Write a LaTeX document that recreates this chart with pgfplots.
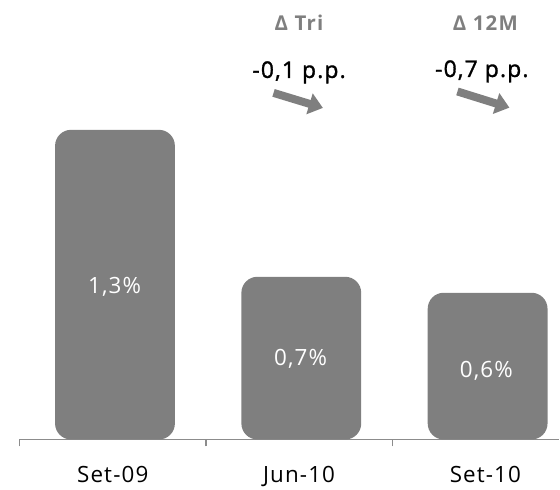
\documentclass[border=0pt]{standalone}
\usepackage{fontspec}
\setmainfont{Open Sans}
\newfontfamily\lsfont[LetterSpace=5]{Open Sans}
\newfontfamily\medfont[LetterSpace=5, FakeBold=1.3]{Open Sans}
\newfontfamily\lsbfont[LetterSpace=6]{Open Sans}
\usepackage{pgfplots}
\pgfplotsset{compat=1.18}
\usetikzlibrary{arrows.meta}
\definecolor{bargray}{HTML}{7F7F7F}
\definecolor{axgray}{HTML}{8C8C8C}
\begin{document}
\begin{tikzpicture}
\begin{axis}[
  scale only axis,
  width=540.4bp, height=440bp,
  xmin=-0.5, xmax=2.397,
  ymin=0, ymax=1.845,
  axis x line=bottom,
  hide y axis,
  x axis line style={-, axgray, line width=1.3pt},
  xtick={0,1,2},
  xticklabels={Set-09,Jun-10,Set-10},
  major tick length=0pt,
  xticklabel style={font=\lsfont\fontsize{22.5}{26}\selectfont, anchor=base, yshift=-43bp, inner sep=0pt},
  extra x ticks={-0.5,0.5,1.5},
  extra x tick labels={},
  extra x tick style={tick align=outside, major tick length=7bp, tick style={axgray, line width=1.3pt}},
  clip=false,
]
\addplot[ybar, bar width=0.643, fill=bargray, draw=none, rounded corners=16bp]
  coordinates {(0.012,1.3) (1.012,0.683) (2.012,0.616)};

\node[white, anchor=base, font=\lsfont\fontsize{22.5}{27}\selectfont] at (axis cs:0.010,0.613) {1,3\%};
\node[white, anchor=base, font=\lsfont\fontsize{22.5}{27}\selectfont] at (axis cs:1.008,0.312) {0,7\%};
\node[white, anchor=base, font=\lsfont\fontsize{22.5}{27}\selectfont] at (axis cs:2.005,0.262) {0,6\%};

\node[bargray, anchor=base, font=\lsbfont\bfseries\fontsize{20.5}{24}\selectfont] at (axis cs:1.0,1.719) {Δ Tri};
\node[bargray, anchor=base, font=\lsbfont\bfseries\fontsize{20.5}{24}\selectfont] at (axis cs:2.0,1.719) {Δ 12M};
\node[black, anchor=base, font=\medfont\fontsize{23}{27}\selectfont] at (axis cs:1.0,1.518) {-0,1 p.p.};
\node[black, anchor=base, font=\medfont\fontsize{23}{27}\selectfont] at (axis cs:1.981,1.522) {-0,7 p.p.};

\draw[bargray, line width=8bp, -{Triangle[length=14bp, width=21bp]}] (axis cs:0.863,1.455) -- (axis cs:1.128,1.392);
\draw[bargray, line width=8bp, -{Triangle[length=14bp, width=21bp]}] (axis cs:1.850,1.461) -- (axis cs:2.129,1.393);
\end{axis}
\path (current axis.south west) ++(-19.6bp,-48bp) coordinate (bbsw);
\path (bbsw) rectangle (current axis.north east);
\end{tikzpicture}
\end{document}
